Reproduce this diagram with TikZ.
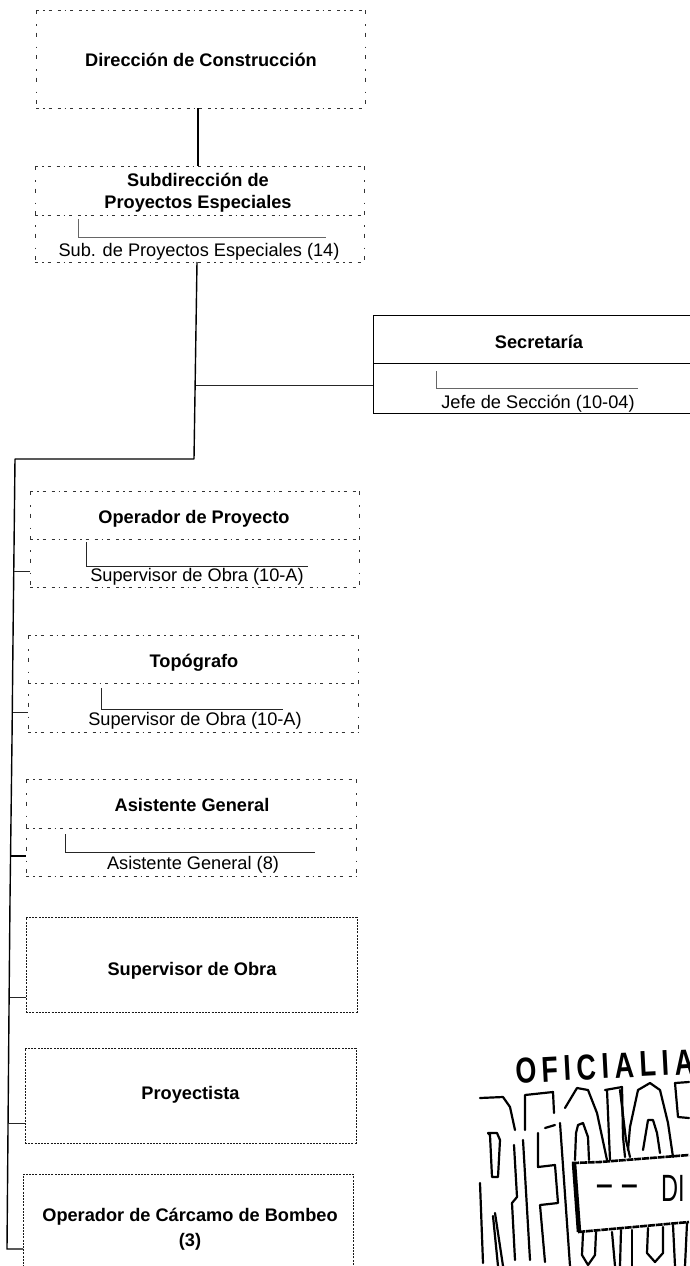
\documentclass[tikz,border=0pt]{standalone}
\usepackage{fontspec}
\setmainfont{Liberation Sans}
\usetikzlibrary{fit}
\tikzset{
  x=1pt,y=-1pt,
  every node/.style={inner sep=0pt,outer sep=0pt,align=center,text=black},
  title/.style={font=\bfseries\fontsize{18.2}{22}\selectfont},
  sub/.style={font=\fontsize{18.2}{22}\selectfont},
  hdash/.style={draw=black!80,line width=.7pt,dash pattern=on 3pt off 4pt on 1.5pt off 4pt on 3pt off 6pt},
  vdash/.style={draw=black!80,line width=.8pt,dash pattern=on 4pt off 10pt on 1.5pt off 7pt},
  dotbox/.style={draw=black!90,line width=1pt,dash pattern=on 2pt off 1.2pt},
  link/.style={draw=black,line width=1.4pt},
  thin link/.style={draw=black!85,line width=.8pt},
  tick/.style={draw=black!60,line width=.6pt},
  stampline/.style={draw=black,line width=2.2pt,line join=round,line cap=round},
  stampedge/.style={draw=black,line width=2.6pt,line join=round,dash pattern=on 7pt off .8pt},
}
\newcommand{\dbox}[6]{%
  \coordinate (#1a) at (#2,#3); \coordinate (#1b) at (#4,#5);
  \node[fit=(#1a)(#1b)] (#1) {};
  \draw[hdash] (#1.north west) -- (#1.north east) (#1.south west) -- (#1.south east);
  \draw[vdash] (#1.north west) -- (#1.south west) (#1.north east) -- (#1.south east);
  \coordinate (#1c) at (#2,#6); \coordinate (#1d) at (#4,#6);
  \draw[hdash] (#1c) -- (#1d);
}
\newcommand{\dotb}[5]{%
  \coordinate (#1a) at (#2,#3); \coordinate (#1b) at (#4,#5);
  \node[fit=(#1a)(#1b),dotbox] (#1) {};
}
\begin{document}
\begin{tikzpicture}
\useasboundingbox (0,0) rectangle (689,1266);
% boxes
\coordinate (dira) at (36,10); \coordinate (dirb) at (365,108);
\node[fit=(dira)(dirb)] (dir) {};
\draw[hdash] (dir.north west) -- (dir.north east) (dir.south west) -- (dir.south east);
\draw[vdash] (dir.north west) -- (dir.south west) (dir.north east) -- (dir.south east);
\node[title] (dirt) at (201,60) {Dirección de Construcción};

\dbox{sub}{35}{166}{364}{262}{215}
\node[title] (subt) at (198,193) {Subdirección de\\Proyectos Especiales};
\node[sub] (subp) at (199,251.5) {Sub. de Proyectos Especiales (14)};
\coordinate (subk) at (78,219); \coordinate (subl) at (326,237);
\draw[tick] (subk) |- (subl);

\coordinate (seca) at (373,315); \coordinate (secb) at (695,413); \coordinate (secm) at (373,363); \coordinate (secn) at (695,363);
\node[fit=(seca)(secb),draw=black,line width=1pt] (sec) {};
\draw[black,line width=1pt] (secm) -- (secn);
\node[title] (sect) at (539,342) {Secretaría};
\node[sub] (secp) at (538,403.5) {Jefe de Sección (10-04)};
\coordinate (seck) at (436,371); \coordinate (secl) at (638,388);
\draw[tick] (seck) |- (secl);

\dbox{op}{30}{491}{359}{587}{539}
\node[title] (opt) at (194,519) {Operador de Proyecto};
\node[sub] (opp) at (197,576.5) {Supervisor de Obra (10-A)};
\coordinate (opk) at (86,542); \coordinate (opl) at (308,566);
\draw[thin link] (opk) |- (opl);

\dbox{top}{28}{635}{358}{732}{683}
\node[title] (topt) at (194,663) {Topógrafo};
\node[sub] (topp) at (195,720.5) {Supervisor de Obra (10-A)};
\coordinate (topk) at (101,688); \coordinate (topl) at (283,709);
\draw[thin link] (topk) |- (topl);

\dbox{as}{26}{779}{356}{876}{828}
\node[title] (ast) at (192,805) {Asistente General};
\node[sub] (asp) at (193,864.5) {Asistente General (8)};
\coordinate (ask) at (65,834); \coordinate (asl) at (315,852);
\draw[thin link] (ask) |- (asl);

\dotb{sup}{26}{917}{357}{1012}
\node[title] (supt) at (192,971) {Supervisor de Obra};
\dotb{pro}{25}{1048}{356}{1143}
\node[title] (prot) at (190.5,1095) {Proyectista};
\dotb{car}{23}{1174}{353}{1290}
\node[font=\bfseries\fontsize{18.2}{25}\selectfont] (cart) at (190,1229) {Operador de Cárcamo de Bombeo\\(3)};

% connectors
\coordinate (t1) at (198,108); \coordinate (t2) at (198,166);
\draw[link] (t1) -- (t2);
\coordinate (m0) at (197,262); \coordinate (m1) at (194,459); \coordinate (m2) at (15,459);
\coordinate (m3) at (13,640); \coordinate (m4) at (12,740); \coordinate (m5) at (10,900);
\coordinate (m6) at (9,1010); \coordinate (m7) at (7,1249);
\draw[link,line join=round] (m0) -- (m1) -- (m2) -- (m3) -- (m4) -- (m5) -- (m6) -- (m7) -- (m7 -| car.west);
\coordinate (jsec) at (196,385);
\draw[thin link] (jsec) -- (jsec -| sec.west);
\coordinate (jop) at (14,571); \draw[thin link] (jop) -- (jop -| op.west);
\coordinate (jtop) at (12.5,712); \draw[thin link] (jtop) -- (jtop -| top.west);
\coordinate (jas) at (11,856); \draw[link] (jas) -- (jas -| as.west);
\coordinate (jsup) at (9.5,997); \draw[thin link] (jsup) -- (jsup -| sup.west);
\coordinate (jpro) at (8,1123); \draw[thin link] (jpro) -- (jpro -| pro.west);

% stamp
\node[anchor=west,rotate=3,font=\bfseries\fontsize{36}{36}\selectfont,xscale=.75] (of) at (516,1071) {\addfontfeature{LetterSpace=20}OFICIALIA};
\begin{scope}[stampline]
\draw (480,1098) -- (503,1097) -- (510,1107) -- (515,1130);
\draw (514,1145) -- (517,1197) -- (512,1203) -- (515,1260);
\draw (523,1140) -- (530,1260);
\draw (488,1133) -- (497,1133) -- (500,1140) -- (498,1177) -- (492,1177) -- (490,1135) -- cycle;
\draw (495,1213) -- (503,1266);
\draw (493,1216) -- (498,1266);
\draw (480,1183) -- (483,1263);
\draw (525,1130) -- (525,1095) -- (553,1092) -- (554,1113);
\draw (545,1128) -- (555,1125);
\draw (538,1133) -- (538,1167) -- (555,1165) -- (558,1203) -- (540,1205) -- (545,1262);
\draw (560,1123) -- (570,1266);
\draw (565,1108) -- (577,1088) -- (588,1090) -- (597,1113) -- (607,1160);
\draw (575,1160) -- (576,1133) -- (578,1125) -- (583,1123) -- (588,1137) -- (589,1160);
\draw (605,1090) -- (622,1087);
\draw (607,1090) -- (610,1160);
\draw (622,1087) -- (623,1137) -- (625,1157);
\draw (620,1090) -- (626,1140) -- (630,1157);
\draw (628,1150) -- (630,1127) -- (638,1090) -- (650,1083) -- (660,1090) -- (668,1123) -- (673,1157);
\draw (643,1150) -- (648,1120) -- (653,1120) -- (657,1133) -- (660,1153);
\draw (689,1082) -- (675,1083) -- (678,1117) -- (689,1118);
\draw (583,1233) -- (582,1255) -- (588,1265) -- (595,1255) -- (596,1232);
\draw (612,1232) -- (615,1266);
\draw (621,1230) -- (620,1266);
\draw (632,1230) -- (632,1266);
\draw (648,1228) -- (647,1253) -- (655,1262) -- (663,1253) -- (663,1227);
\draw (673,1225) -- (675,1266);
\draw (687,1223) -- (685,1266);
\end{scope}
\draw[stampedge] (572,1163) -- (600,1162) -- (689,1155);
\draw[stampedge] (578,1232) -- (689,1222);
\draw[black,line width=4.5pt] (574,1163) -- (579,1232);
\node[font=\bfseries\fontsize{30}{30}\selectfont] (dash) at (617,1190) {– –};
\node[anchor=west,font=\fontsize{38}{38}\selectfont,xscale=.62] (di) at (661,1188) {DI};
\end{tikzpicture}
\end{document}
